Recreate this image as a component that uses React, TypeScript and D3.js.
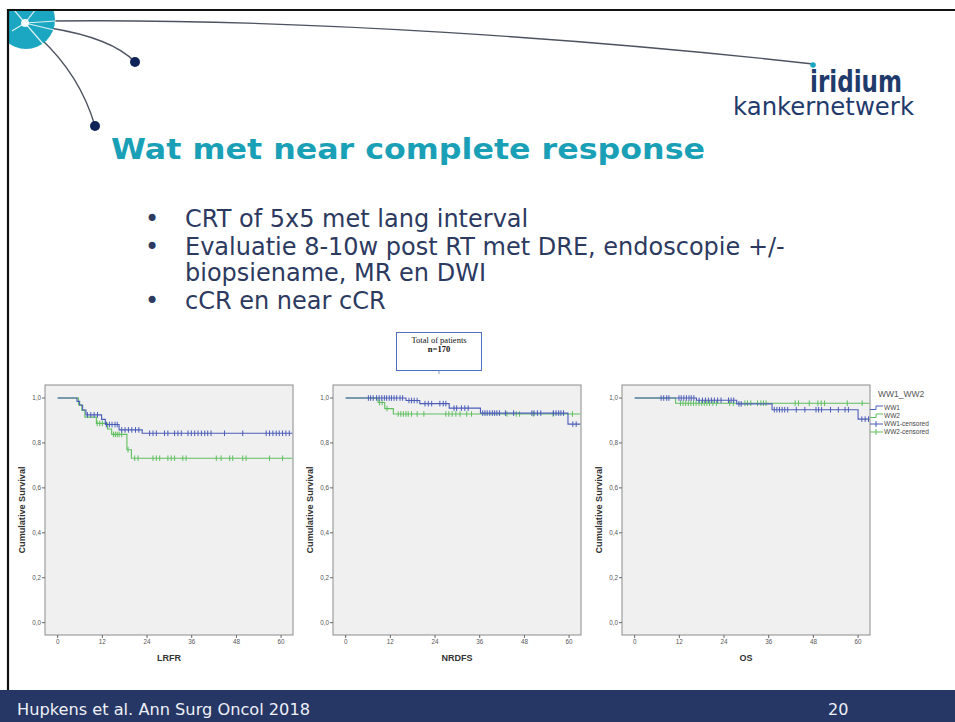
import * as d3 from "d3";

// Kaplan-Meier curves: [month, survival after event]
type Step = [number, number];

const monthTicks = [0, 12, 24, 36, 48, 60];
const survivalTicks = [0, 0.2, 0.4, 0.6, 0.8, 1.0];
const maxFollowUp = 63;

const lrfrWW1: Step[] = [[0, 1], [5.2, 0.985], [5.9, 0.968], [6.7, 0.947], [7.6, 0.925], [11.8, 0.905], [12.8, 0.882], [16.5, 0.858], [22.7, 0.843]];
const lrfrWW1Censored = [8.0, 8.9, 9.8, 10.7, 13.1, 13.9, 14.6, 15.4, 16.0, 17.2, 18.1, 19.0, 19.9, 20.9, 21.8, 24.7, 25.6, 26.5, 28.7, 29.6, 31.4, 32.3, 33.2, 35.0, 35.9, 36.8, 37.7, 38.6, 39.5, 40.3, 41.2, 44.8, 49.7, 56.0, 56.9, 57.8, 58.7, 59.5, 60.4, 61.3, 62.2];
const lrfrWW2: Step[] = [[0, 1], [5.6, 0.97], [6.5, 0.945], [7.3, 0.915], [10.4, 0.887], [13.4, 0.862], [14.5, 0.838], [18.6, 0.77], [19.8, 0.732]];
const lrfrWW2Censored = [10.6, 11.3, 12.0, 15.0, 15.5, 16.0, 16.5, 17.2, 18.9, 20.7, 21.6, 25.6, 26.5, 27.4, 29.6, 30.5, 31.4, 33.6, 34.5, 42.6, 43.9, 46.2, 47.0, 49.7, 50.6, 56.9, 60.4];

const nrdfsWW1: Step[] = [[0, 1], [16.2, 0.989], [19.9, 0.975], [27.8, 0.955], [36.2, 0.933], [59.7, 0.884]];
const nrdfsWW1Censored = [6.1, 6.7, 7.4, 8.3, 9.0, 9.7, 10.4, 11.0, 11.7, 12.3, 13.0, 13.7, 14.6, 15.3, 17.0, 17.7, 18.4, 19.2, 21.3, 22.2, 23.1, 25.3, 26.2, 26.9, 29.1, 29.8, 31.1, 32.0, 32.9, 36.8, 37.4, 38.0, 38.7, 39.4, 40.0, 40.6, 41.3, 42.9, 45.1, 50.0, 50.6, 51.5, 52.4, 55.8, 56.5, 57.2, 57.8, 58.5, 61.0, 61.9];
const nrdfsWW2: Step[] = [[0, 1], [8.7, 0.98], [10.5, 0.953], [12.8, 0.929]];
const nrdfsWW2Censored = [9.1, 9.8, 11.1, 14.1, 14.8, 15.5, 16.2, 16.8, 17.7, 19.2, 21.0, 26.9, 27.7, 28.6, 29.6, 30.7, 32.5, 33.8, 43.3, 45.8, 46.7, 50.4, 55.7, 60.9];

const osWW1: Step[] = [[0, 1], [16.6, 0.99], [27.4, 0.974], [36.9, 0.948], [60.0, 0.906]];
const osWW1Censored = [7.1, 7.8, 8.6, 9.2, 11.9, 12.5, 13.2, 13.9, 14.6, 15.2, 15.9, 17.3, 18.2, 19.0, 19.8, 20.6, 21.4, 22.3, 23.2, 25.2, 25.9, 26.6, 28.0, 28.6, 37.5, 38.2, 38.9, 39.6, 40.3, 41.1, 43.4, 45.7, 48.7, 49.4, 50.2, 52.6, 54.7, 56.5, 57.4, 61.0, 61.9, 62.8];
const osWW2: Step[] = [[0, 1], [11.0, 0.977]];
const osWW2Censored = [12.3, 13.0, 13.7, 14.4, 15.1, 15.8, 16.5, 17.3, 18.0, 18.7, 19.4, 20.1, 21.0, 22.0, 25.5, 26.5, 29.6, 30.3, 31.2, 33.0, 33.9, 34.6, 35.3, 43.1, 44.0, 46.9, 49.2, 50.1, 51.0, 57.1, 61.1];

const panelTitles = ["LRFR", "NRDFS", "OS"];
const ww1Series = [lrfrWW1, nrdfsWW1, osWW1];
const ww1Censored = [lrfrWW1Censored, nrdfsWW1Censored, osWW1Censored];
const ww2Series = [lrfrWW2, nrdfsWW2, osWW2];
const ww2Censored = [lrfrWW2Censored, nrdfsWW2Censored, osWW2Censored];

const legendTitle = "WW1_WW2";
const legendLabels = ["WW1", "WW2", "WW1-censored", "WW2-censored"];

const bullets = [
  ["CRT of 5x5 met lang interval"],
  ["Evaluatie 8-10w post RT met DRE, endoscopie +/-", "biopsiename, MR en DWI"],
  ["cCR en near cCR"],
];

const BLUE = "#4b5cb8";
const GREEN = "#5fbf5f";
const TEAL = "#1aa0b6";
const NAVY = "#1f3b6c";
const SPSS_FONT = "Liberation Sans, Arial, sans-serif";
const SLIDE_FONT = "DejaVu Sans, Verdana, sans-serif";

const survivalAt = (steps: Step[], t: number) => {
  let s = steps[0][1];
  for (const [time, v] of steps) if (time <= t) s = v;
  return s;
};

const fmtComma = (v: number) => d3.format(".1f")(v).replace(".", ",");

function KMPanel({ idx, left }: { idx: number; left: number }) {
  const top = 385;
  const w = 248;
  const h = 250;
  const x = d3.scaleLinear().domain([-3.4, 63.2]).range([left, left + w]);
  const y = d3.scaleLinear().domain([-0.055, 1.058]).range([top + h, top]);

  const line = d3
    .line<Step>()
    .x((d) => x(d[0]))
    .y((d) => y(d[1]))
    .curve(d3.curveStepAfter);

  const series = [
    { steps: ww2Series[idx], cens: ww2Censored[idx], color: GREEN },
    { steps: ww1Series[idx], cens: ww1Censored[idx], color: BLUE },
  ];

  return (
    <g>
      <rect x={left} y={top} width={w} height={h} fill="#f0f0f0" stroke="#8c8c8c" strokeWidth={1} />
      {survivalTicks.map((t) => (
        <g key={t}>
          <line x1={left - 3} x2={left} y1={y(t)} y2={y(t)} stroke="#666" />
          <text x={left - 4} y={y(t) + 2.2} fontSize={6.3} fill="#555" textAnchor="end" fontFamily={SPSS_FONT}>
            {fmtComma(t)}
          </text>
        </g>
      ))}
      {monthTicks.map((t) => (
        <g key={t}>
          <line x1={x(t)} x2={x(t)} y1={top + h} y2={top + h + 3} stroke="#666" />
          <text x={x(t)} y={top + h + 9} fontSize={6.3} fill="#555" textAnchor="middle" fontFamily={SPSS_FONT}>
            {t}
          </text>
        </g>
      ))}
      <text x={left + w / 2} y={top + h + 26} fontSize={9} fontWeight="bold" fill="#333" textAnchor="middle" fontFamily={SPSS_FONT}>
        {panelTitles[idx]}
      </text>
      <text
        transform={`translate(${left - 20},${top + h / 2}) rotate(-90)`}
        fontSize={9}
        fontWeight="bold"
        fill="#333"
        textAnchor="middle"
        fontFamily={SPSS_FONT}
        textLength={87}
        lengthAdjust="spacingAndGlyphs"
      >
        Cumulative Survival
      </text>
      {series.map((s, i) => {
        const pts: Step[] = [...s.steps, [maxFollowUp, s.steps[s.steps.length - 1][1]]];
        return (
          <g key={i}>
            <path d={line(pts) ?? ""} fill="none" stroke={s.color} strokeWidth={1.1} />
            {s.cens.map((c, j) => {
              const cy = y(survivalAt(s.steps, c));
              return <line key={j} x1={x(c)} x2={x(c)} y1={cy - 2.8} y2={cy + 2.8} stroke={s.color} strokeWidth={1} />;
            })}
          </g>
        );
      })}
    </g>
  );
}

function Legend({ x0, y0 }: { x0: number; y0: number }) {
  const colors = [BLUE, GREEN, BLUE, GREEN];
  return (
    <g fontFamily={SPSS_FONT}>
      <text x={x0 + 8} y={y0} fontSize={8.5} fill="#555">
        {legendTitle}
      </text>
      {legendLabels.map((lab, i) => {
        const cy = y0 + 11 + i * 8;
        return (
          <g key={lab}>
            {i < 2 ? (
              <path d={`M${x0},${cy + 1.5}H${x0 + 6}V${cy - 2}H${x0 + 13}`} fill="none" stroke={colors[i]} />
            ) : (
              <g>
                <line x1={x0} x2={x0 + 13} y1={cy} y2={cy} stroke={colors[i]} />
                <line x1={x0 + 6} x2={x0 + 6} y1={cy - 3} y2={cy + 3} stroke={colors[i]} />
              </g>
            )}
            <text x={x0 + 14} y={cy + 2.3} fontSize={6.5} fill="#444">
              {lab}
            </text>
          </g>
        );
      })}
    </g>
  );
}

export default function App() {
  const panelLefts = [45, 333, 622];

  const bulletLines: { text: string; y: number; bullet: boolean }[] = [];
  let yy = 227;
  bullets.forEach((para) => {
    para.forEach((ln, j) => {
      bulletLines.push({ text: ln, y: yy, bullet: j === 0 });
      yy += j < para.length - 1 ? 25.5 : 28;
    });
  });

  return (
    <svg width={955} height={722} style={{ position: "absolute", left: 0, top: 0, display: "block", background: "#fff" }}>
      <defs>
        <clipPath id="slideClip">
          <rect x={9} y={11} width={946} height={700} />
        </clipPath>
      </defs>

      {/* logo and connector lines */}
      <g clipPath="url(#slideClip)">
        <path d="M48,21 C300,18 600,40 813,64" fill="none" stroke="#4d5260" strokeWidth={1.4} />
        <path d="M50,28 Q112,38 135,62" fill="none" stroke="#4d5260" strokeWidth={1.4} />
        <path d="M40,38 Q80,75 95,126" fill="none" stroke="#4d5260" strokeWidth={1.4} />
        <ellipse cx={26} cy={20} rx={29} ry={29} fill="#1ba6c2" />
        {[[36, 9], [56, 21], [54, 30], [44, 45], [12, 31], [14, 10]].map(([ex, ey], i) => (
          <line key={i} x1={25} y1={23} x2={ex} y2={ey} stroke="#fff" strokeWidth={1.2} opacity={0.85} />
        ))}
        <circle cx={25} cy={23} r={4} fill="#fff" opacity={0.9} />
      </g>
      <circle cx={135} cy={62} r={5} fill="#10245a" />
      <circle cx={95} cy={126} r={5} fill="#10245a" />

      {/* slide border */}
      <line x1={8} x2={955} y1={10} y2={10} stroke="#111" strokeWidth={2.2} />
      <line x1={8} x2={8} y1={9} y2={690} stroke="#111" strokeWidth={2.2} />

      {/* iridium logo */}
      <text x={810} y={92} fontSize={30} fontWeight="bold" fill={NAVY} fontFamily={SLIDE_FONT} textLength={92} lengthAdjust="spacingAndGlyphs">
        iridium
      </text>
      <circle cx={813} cy={65} r={2.8} fill="#1ba6c2" />
      <text x={733} y={115} fontSize={24} fill={NAVY} fontFamily={SLIDE_FONT} textLength={181} lengthAdjust="spacingAndGlyphs">
        kankernetwerk
      </text>

      {/* title */}
      <text x={111} y={159} fontSize={28.5} fontWeight="bold" fill={TEAL} fontFamily={SLIDE_FONT} textLength={594} lengthAdjust="spacingAndGlyphs">
        Wat met near complete response
      </text>

      {/* bullets */}
      <g fontFamily={SLIDE_FONT} fill="#2c3a5f" fontSize={24}>
        {bulletLines.map((b, i) => (
          <g key={i}>
            {b.bullet && (
              <text x={145} y={b.y}>
                •
              </text>
            )}
            <text x={185} y={b.y}>
              {b.text}
            </text>
          </g>
        ))}
      </g>

      {/* n box */}
      <rect x={396.5} y={332.5} width={85} height={38} fill="#fff" stroke="#4f6fbf" strokeWidth={1} />
      <line x1={439} x2={439} y1={371} y2={374} stroke="#8c9bc8" />
      <text x={439} y={343} fontSize={8.5} textAnchor="middle" fontFamily="Liberation Serif, Times New Roman, serif" fill="#111">
        Total of patients
      </text>
      <text x={439} y={352} fontSize={8.5} fontWeight="bold" textAnchor="middle" fontFamily="Liberation Serif, Times New Roman, serif" fill="#111">
        n=170
      </text>

      {/* KM panels */}
      {panelLefts.map((l, i) => (
        <KMPanel key={i} idx={i} left={l} />
      ))}
      <Legend x0={870} y0={397} />

      {/* footer */}
      <rect x={0} y={690} width={955} height={32} fill="#263766" />
      <text x={17} y={715} fontSize={16} fill="#eef0f6" fontFamily={SLIDE_FONT} textLength={293} lengthAdjust="spacingAndGlyphs">
        Hupkens et al. Ann Surg Oncol 2018
      </text>
      <text x={828} y={715} fontSize={16} fill="#eef0f6" fontFamily={SLIDE_FONT}>
        20
      </text>
    </svg>
  );
}
